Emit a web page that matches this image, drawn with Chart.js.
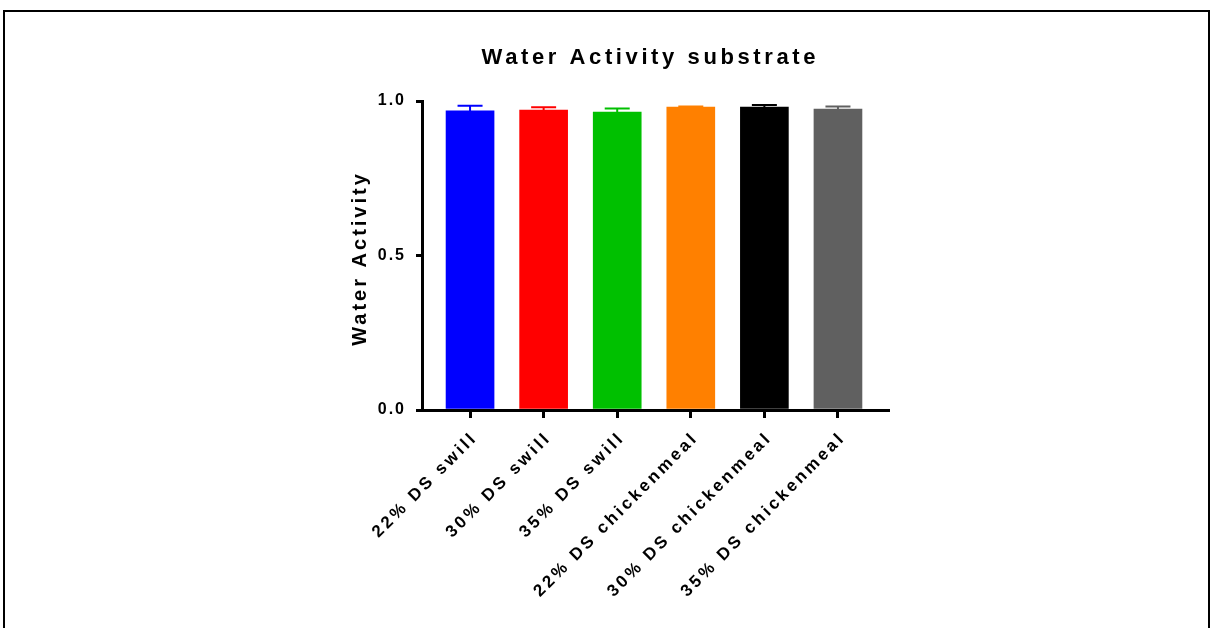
<!DOCTYPE html>
<html>
<head>
<meta charset="utf-8">
<script src="https://cdn.jsdelivr.net/npm/chart.js@4/dist/chart.umd.min.js"></script>
<style>
  body { margin: 0; background: #fff; overflow: hidden; }
  #wrap { position: relative; width: 1211px; height: 628px; }
  #frame { position: absolute; left: 3px; top: 10px; width: 1203px; height: 700px;
           border: 2px solid #000; border-bottom: none; }
  canvas { position: absolute; left: 0; top: 0; }
</style>
</head>
<body>
<div id="wrap">
  <div id="frame"></div>
  <canvas id="chart" width="1211" height="628"></canvas>
</div>
<script>
// data
const categories = ['22% DS swill', '30% DS swill', '35% DS swill',
                    '22% DS chickenmeal', '30% DS chickenmeal', '35% DS chickenmeal'];
const means = [0.968, 0.971, 0.964, 0.980, 0.980, 0.974];
const sds = [0.017, 0.009, 0.012, 0.002, 0.007, 0.008];
const barColors = ['#0000ff', '#ff0000', '#00c000', '#ff8000', '#000000', '#606060'];
const yTicks = [0, 0.5, 1.0];

const chartTitle = 'Water Activity substrate';
const yTitle = 'Water Activity';

const FONT = '"Liberation Sans", Arial, sans-serif';

// error bars (upward only) + text spacing + titles
const extras = {
    id: 'extras',
    beforeLayout(chart) {
        chart.ctx.letterSpacing = '2px';
    },
    beforeDraw(chart) {
        chart.ctx.letterSpacing = '2px';
    },
    afterDatasetsDraw(chart) {
        const ctx = chart.ctx;
        const y = chart.scales.y;
        const meta = chart.getDatasetMeta(0);
        ctx.save();
        ctx.lineWidth = 2;
        meta.data.forEach((bar, i) => {
            const top = y.getPixelForValue(means[i] + sds[i]);
            const base = y.getPixelForValue(means[i]);
            ctx.strokeStyle = barColors[i];
            ctx.beginPath();
            ctx.moveTo(bar.x, base);
            ctx.lineTo(bar.x, top);
            ctx.moveTo(bar.x - 12.5, top);
            ctx.lineTo(bar.x + 12.5, top);
            ctx.stroke();
        });
        ctx.restore();
        // x labels are drawn after this (ticks.z = 1)
        ctx.letterSpacing = '3.1px';
    },
    afterDraw(chart) {
        const ctx = chart.ctx;
        ctx.save();
        ctx.fillStyle = '#000';
        ctx.textAlign = 'center';
        ctx.textBaseline = 'alphabetic';
        ctx.letterSpacing = '3.6px';
        ctx.font = 'bold 22px ' + FONT;
        ctx.fillText(chartTitle, 650.3, 64);

        ctx.letterSpacing = '3px';
        ctx.font = 'bold 20px ' + FONT;
        ctx.translate(366, 260);
        ctx.rotate(-Math.PI / 2);
        ctx.fillText(yTitle, 1.5, 0);
        ctx.restore();
    }
};

new Chart(document.getElementById('chart'), {
    type: 'bar',
    data: {
        datasets: [{
            data: means.map((v, i) => ({ x: i, y: v })),
            backgroundColor: barColors,
            borderWidth: 0,
            barThickness: 48
        }]
    },
    options: {
        responsive: false,
        animation: false,
        events: [],
        layout: { padding: { left: 362, top: 101, right: 323, bottom: 18 } },
        plugins: {
            legend: { display: false },
            title: { display: false },
            tooltip: { enabled: false }
        },
        scales: {
            x: {
                type: 'linear',
                offset: false,
                min: -0.653,
                max: 5.68,
                afterBuildTicks(scale) {
                    scale.ticks = categories.map((c, i) => ({ value: i }));
                },
                afterFit(scale) { scale.height = 200; },
                grid: { offset: false, drawOnChartArea: false, drawTicks: true, tickLength: 8,
                        color: '#000', lineWidth: 3 },
                border: { display: true, color: '#000', width: 3 },
                ticks: {
                    z: 1,
                    autoSkip: false,
                    minRotation: 45,
                    maxRotation: 45,
                    padding: 10,
                    labelOffset: 5,
                    color: '#000',
                    font: { family: FONT, size: 17, weight: 'bold' },
                    callback: (v) => categories[v]
                }
            },
            y: {
                min: 0,
                max: 1,
                afterBuildTicks(scale) {
                    scale.ticks = yTicks.map(v => ({ value: v }));
                },
                afterFit(scale) { scale.width = 60; },
                grid: { drawOnChartArea: false, drawTicks: true, tickLength: 6,
                        color: '#000', lineWidth: 3 },
                border: { display: true, color: '#000', width: 3 },
                ticks: {
                    padding: 10,
                    color: '#000',
                    font: { family: FONT, size: 16, weight: 'bold' },
                    callback: (v) => v.toFixed(1)
                }
            }
        }
    },
    plugins: [extras]
});
</script>
</body>
</html>
